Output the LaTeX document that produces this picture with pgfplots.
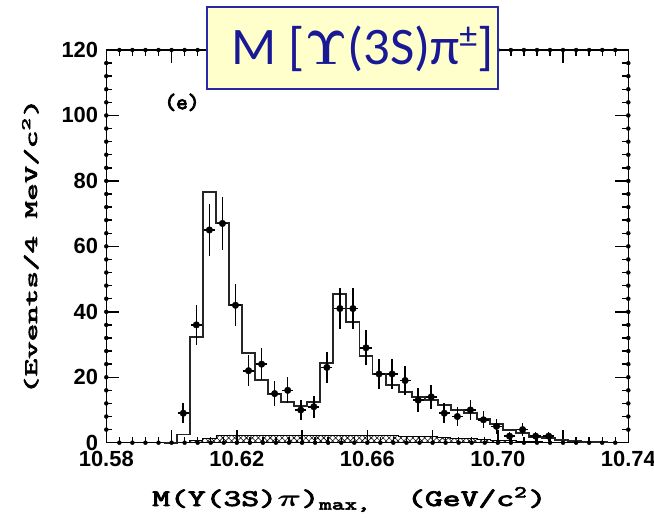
\documentclass[border=0pt]{standalone}
\usepackage{fontspec}
\setmainfont{Liberation Sans}
\newfontfamily\monofont[FakeBold=3]{Latin Modern Mono}
\newfontfamily\monoheavy[FakeBold=4]{Latin Modern Mono}
\newfontfamily\titlefont{Carlito}
\usepackage{graphicx}
\usepackage{amsmath}
\usepackage{pgfplots}
\pgfplotsset{compat=1.18}
\usetikzlibrary{patterns.meta}
\definecolor{boxfill}{RGB}{255,255,204}
\definecolor{boxdraw}{RGB}{40,40,170}
\definecolor{titleblue}{RGB}{25,25,150}

\pgfplotstableread{
x y ex ey
10.6036 9 0.0017 3.00
10.6076 36 0.0017 6.00
10.6116 65 0.0017 8.06
10.6156 67 0.0017 8.19
10.6196 42 0.0017 6.48
10.6236 22 0.0017 4.69
10.6276 24 0.0017 4.90
10.6316 15 0.0017 3.87
10.6356 16 0.0017 4.00
10.6396 10 0.0017 3.16
10.6436 11 0.0017 3.32
10.6476 23 0.0017 4.80
10.6516 41 0.0017 6.40
10.6556 41 0.0017 6.40
10.6596 29 0.0017 5.39
10.6636 21 0.0017 4.58
10.6676 21 0.0017 4.58
10.6716 19 0.0017 4.36
10.6756 13 0.0017 3.61
10.6796 14 0.0017 3.74
10.6836 9 0.0017 3.00
10.6876 8 0.0017 2.83
10.6916 10 0.0017 3.16
10.6956 7 0.0017 2.65
10.6996 5 0.0017 2.24
10.7036 2 0.0017 1.41
10.7076 4 0.0017 2.00
10.7116 2 0.0017 1.41
10.7156 2 0.0017 1.41
}\datapts

\pgfplotstableread{
x y
10.5976 0
10.6016 2.5
10.6056 32.4
10.6096 76.7
10.6136 67.0
10.6176 42.1
10.6216 27.3
10.6256 19.2
10.6296 14.8
10.6336 12.5
10.6376 11.3
10.6416 12.5
10.6456 24.4
10.6496 45.4
10.6536 36.9
10.6576 26.4
10.6616 21.0
10.6656 17.6
10.6696 15.6
10.6736 13.9
10.6776 13.0
10.6816 11.4
10.6856 10.1
10.6896 9.0
10.6936 7.2
10.6976 5.6
10.7016 3.9
10.7056 2.9
10.7096 1.8
10.7136 1.3
10.7176 0.9
10.7216 0.6
10.7256 0.3
10.7296 0.1
10.7336 0
}\fithist

\pgfplotstableread{
x y
10.6056 0.6
10.6096 1.4
10.6136 2.2
10.6176 2.3
10.6216 2.3
10.6256 2.3
10.6296 2.3
10.6336 2.3
10.6376 2.3
10.6416 2.3
10.6456 2.3
10.6496 2.3
10.6536 2.3
10.6576 2.3
10.6616 2.2
10.6656 2.1
10.6696 2.0
10.6736 1.9
10.6776 1.8
10.6816 1.6
10.6856 1.4
10.6896 1.2
10.6936 1.0
10.6976 0.8
10.7016 0.6
10.7056 0.4
10.7096 0.25
10.7136 0.12
10.7176 0
}\bghist

\pgfplotsset{tickbar/.style={only marks, mark=none, forget plot,
  error bars/error mark=none,
  error bars/error bar style={draw=black, line width=1.4bp}}}

\begin{document}
\begin{tikzpicture}
\path[use as bounding box] (-106.3bp,-81.3bp) rectangle (547.7bp,442.7bp);
\begin{axis}[
  scale only axis,
  width=522bp, height=392.7bp,
  xmin=10.58, xmax=10.74, ymin=0, ymax=120,
  axis line style={line width=1.4bp},
  xtick={10.58,10.62,10.66,10.70,10.74},
  ytick={0,20,40,60,80,100,120},
  tick align=inside,
  major tick style={draw=black, line width=1.5bp},
  major tick length=13bp,
  scaled x ticks=false,
  /pgf/number format/assume math mode=true,
  xticklabel style={/pgf/number format/fixed, /pgf/number format/fixed zerofill, /pgf/number format/precision=2, inner sep=0pt, yshift=-8bp},
  yticklabel style={inner sep=0pt, xshift=-8bp},
  tick label style={font=\bfseries\fontsize{22}{24}\selectfont},
  clip=false,
]
% bottom and top minor ticks
\addplot[tickbar, error bars/.cd, y dir=plus, y fixed=1.83] coordinates {
(10.584,0) (10.588,0) (10.592,0) (10.596,0) (10.604,0) (10.608,0) (10.612,0) (10.616,0)
(10.624,0) (10.628,0) (10.632,0) (10.636,0) (10.644,0) (10.648,0) (10.652,0) (10.656,0)
(10.664,0) (10.668,0) (10.672,0) (10.676,0) (10.684,0) (10.688,0) (10.692,0) (10.696,0)
(10.704,0) (10.708,0) (10.712,0) (10.716,0) (10.724,0) (10.728,0) (10.732,0) (10.736,0)};
\addplot[tickbar, error bars/.cd, y dir=minus, y fixed=1.83] coordinates {
(10.584,120) (10.588,120) (10.592,120) (10.596,120) (10.604,120) (10.608,120) (10.612,120) (10.616,120)
(10.624,120) (10.628,120) (10.632,120) (10.636,120) (10.644,120) (10.648,120) (10.652,120) (10.656,120)
(10.664,120) (10.668,120) (10.672,120) (10.676,120) (10.684,120) (10.688,120) (10.692,120) (10.696,120)
(10.704,120) (10.708,120) (10.712,120) (10.716,120) (10.724,120) (10.728,120) (10.732,120) (10.736,120)};
% bottom and top major ticks
\addplot[tickbar, error bars/.cd, y dir=plus, y fixed=3.97] coordinates {
(10.60,0) (10.62,0) (10.64,0) (10.66,0) (10.68,0) (10.70,0) (10.72,0)};
\addplot[tickbar, error bars/.cd, y dir=minus, y fixed=3.97] coordinates {
(10.60,120) (10.62,120) (10.64,120) (10.66,120) (10.68,120) (10.70,120) (10.72,120)};
% left and right minor ticks
\addplot[tickbar, error bars/.cd, x dir=plus, x fixed=0.00184] coordinates {
(10.58,4) (10.58,8) (10.58,12) (10.58,16) (10.58,24) (10.58,28) (10.58,32) (10.58,36)
(10.58,44) (10.58,48) (10.58,52) (10.58,56) (10.58,64) (10.58,68) (10.58,72) (10.58,76)
(10.58,84) (10.58,88) (10.58,92) (10.58,96) (10.58,104) (10.58,108) (10.58,112) (10.58,116)};
\addplot[tickbar, error bars/.cd, x dir=minus, x fixed=0.00184] coordinates {
(10.74,4) (10.74,8) (10.74,12) (10.74,16) (10.74,24) (10.74,28) (10.74,32) (10.74,36)
(10.74,44) (10.74,48) (10.74,52) (10.74,56) (10.74,64) (10.74,68) (10.74,72) (10.74,76)
(10.74,84) (10.74,88) (10.74,92) (10.74,96) (10.74,104) (10.74,108) (10.74,112) (10.74,116)};
% left and right major ticks
\addplot[tickbar, error bars/.cd, x dir=plus, x fixed=0.00399] coordinates {
(10.58,20) (10.58,40) (10.58,60) (10.58,80) (10.58,100)};
\addplot[tickbar, error bars/.cd, x dir=minus, x fixed=0.00399] coordinates {
(10.74,20) (10.74,40) (10.74,60) (10.74,80) (10.74,100)};
% background and fit
\addplot[const plot, draw=black, line width=0.8bp, pattern={Hatch[angle=45,distance=4.2bp,line width=0.6bp]}] table {\bghist} \closedcycle;
\addplot[const plot, draw=black!85, line width=1.9bp] table {\fithist};
% data
\addplot[only marks, mark=*, mark size=3.3bp, black,
  error bars/.cd, x dir=both, x explicit, y dir=both, y explicit,
  error mark=none, error bar style={line width=1.6bp, black}]
  table[x=x, y=y, x error=ex, y error=ey] {\datapts};
\node at (axis cs:10.6032,104) {\resizebox{35bp}{!}{\monoheavy (e)}};
\end{axis}
% y label
\node[rotate=90, anchor=base, inner sep=0pt] at (-69.3bp,196.3bp)
  {\resizebox{295bp}{15bp}{\monofont (Events/4 MeV/c\textsuperscript{2})}};
% x label
\node[anchor=base west, inner sep=0pt] at (45.7bp,-63.3bp)
  {\resizebox{394bp}{19bp}{\monofont M(Y(3S)$\boldsymbol{\pi}$)\textsubscript{max,}\ \ (GeV/c\textsuperscript{2})}};
% title box
\draw[boxdraw, fill=boxfill, line width=1.6bp] (100.7bp,435.4bp) rectangle (391.7bp,353.4bp);
\node[anchor=base west, inner sep=0pt, text=titleblue, font=\titlefont\fontsize{53}{56}\selectfont] at (125.4bp,377.7bp)
  {M [\resizebox{!}{33bp}{$\boldsymbol{\Upsilon}$}(3S)π\raisebox{0.33em}{\fontsize{36}{38}\selectfont ±}]};
\end{tikzpicture}
\end{document}
